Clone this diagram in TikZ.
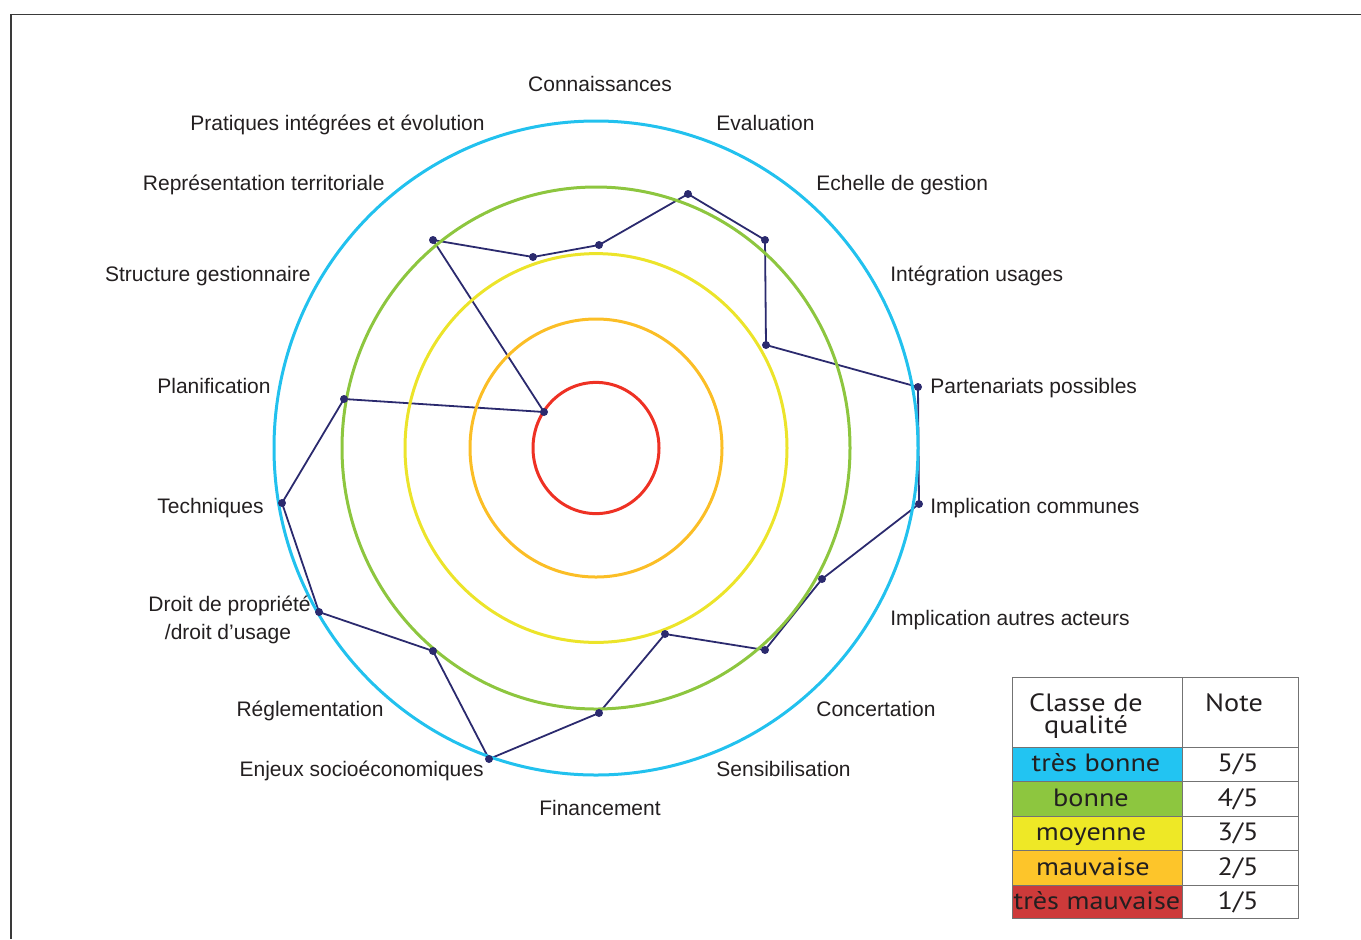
\documentclass[tikz,border=0pt]{standalone}
\usepackage{fontspec}
\setmainfont{Liberation Sans}
\newfontfamily\legendfont{PT Sans}

\definecolor{ringblue}{HTML}{22C1EE}
\definecolor{ringgreen}{HTML}{8DC63F}
\definecolor{ringyellow}{HTML}{ECE42A}
\definecolor{ringorange}{HTML}{FBBE26}
\definecolor{ringred}{HTML}{EE3124}
\definecolor{cellblue}{HTML}{22C4F2}
\definecolor{cellgreen}{HTML}{8DC63F}
\definecolor{cellyellow}{HTML}{EEE826}
\definecolor{cellorange}{HTML}{FDC52A}
\definecolor{cellred}{HTML}{CD3A3A}
\definecolor{scoreline}{HTML}{2B2A6E}
\definecolor{framegray}{HTML}{3A3A3A}
\definecolor{inktext}{HTML}{231F20}

% legend text is set a little wider than the face's natural width
\newcommand{\legwide}[1]{\scalebox{1.13}[1]{#1}}

\begin{document}
\begin{tikzpicture}[x=0.5pt,y=-0.5pt,
  ring/.style={line width=1.5pt},
  axislabel/.style={font=\fontsize{10.5pt}{12.5pt}\selectfont, text=inktext, inner sep=0pt},
  legtext/.style={font=\legendfont\fontsize{12.5pt}{13pt}\selectfont, text=inktext, inner sep=0pt, anchor=base},
  legcell/.style={draw=black!55, line width=0.5pt},
  dot/.style={fill=scoreline}]
\useasboundingbox (0,0) rectangle (1361,939);

% page frame
\draw[framegray, line width=0.6pt] (1361,14.5) -- (11,14.5) -- (11,939);

% score polygon vertices
\coordinate (s01) at (599,245);   % Connaissances
\coordinate (s02) at (688,194);   % Evaluation
\coordinate (s03) at (765,240);   % Echelle de gestion
\coordinate (s04) at (766,345);   % Integration usages
\coordinate (s05) at (918,387);   % Partenariats possibles
\coordinate (s06) at (919,504);   % Implication communes
\coordinate (s07) at (822,579);   % Implication autres acteurs
\coordinate (s08) at (765,650);   % Concertation
\coordinate (s09) at (665,634);   % Sensibilisation
\coordinate (s10) at (599,713);   % Financement
\coordinate (s11) at (489,759);   % Enjeux socioeconomiques
\coordinate (s12) at (433,651);   % Reglementation
\coordinate (s13) at (319,612);   % Droit de propriete
\coordinate (s14) at (282,503);   % Techniques
\coordinate (s15) at (344,399);   % Planification
\coordinate (s16) at (544,412);   % Structure gestionnaire
\coordinate (s17) at (433,240);   % Representation territoriale
\coordinate (s18) at (533,257);   % Pratiques integrees

\draw[scoreline, line width=0.9pt, line join=round]
  (s01) -- (s02) -- (s03) -- (s04) -- (s05) -- (s06) -- (s07) -- (s08) -- (s09)
  -- (s10) -- (s11) -- (s12) -- (s13) -- (s14) -- (s15) -- (s16) -- (s17) -- (s18) -- cycle;

% quality rings
\coordinate (c) at (596,448);
\draw[ring, ringred]    (c) ellipse [x radius=31.5pt, y radius=32.8pt];
\draw[ring, ringorange] (c) ellipse [x radius=63pt,   y radius=64.5pt];
\draw[ring, ringyellow] (c) ellipse [x radius=95.5pt, y radius=97.2pt];
\draw[ring, ringgreen]  (c) ellipse [x radius=127pt,  y radius=130.5pt];
\draw[ring, ringblue]   (c) ellipse [x radius=161pt,  y radius=163.5pt];

\foreach \p in {s01,s02,s03,s04,s05,s06,s07,s08,s09,s10,s11,s12,s13,s14,s15,s16,s17,s18}
  \fill[dot] (\p) circle [radius=2pt];

% axis labels
\node[axislabel, anchor=mid]      (l01) at (600,86)  {Connaissances};
\node[axislabel, anchor=mid west] (l02) at (716,125) {Evaluation};
\node[axislabel, anchor=mid west] (l03) at (816,185) {Echelle de gestion};
\node[axislabel, anchor=mid west] (l04) at (890,276) {Intégration usages};
\node[axislabel, anchor=mid west] (l05) at (930,388) {Partenariats possibles};
\node[axislabel, anchor=mid west] (l06) at (930,508) {Implication communes};
\node[axislabel, anchor=mid west] (l07) at (890,620) {Implication autres acteurs};
\node[axislabel, anchor=mid west] (l08) at (816,711) {Concertation};
\node[axislabel, anchor=mid west] (l09) at (716,771) {Sensibilisation};
\node[axislabel, anchor=mid]      (l10) at (600,810) {Financement};
\node[axislabel, anchor=mid east] (l11) at (484,771) {Enjeux socioéconomiques};
\node[axislabel, anchor=mid east] (l12) at (384,711) {Réglementation};
\node[axislabel, anchor=mid east] (l13) at (311,606) {Droit de propriété};
\node[axislabel, anchor=mid]      (l13b) at (228,634) {/droit d'usage};
\node[axislabel, anchor=mid east] (l14) at (264,508) {Techniques};
\node[axislabel, anchor=mid east] (l15) at (271,388) {Planification};
\node[axislabel, anchor=mid east] (l16) at (311,276) {Structure gestionnaire};
\node[axislabel, anchor=mid east] (l17) at (385,185) {Représentation territoriale};
\node[axislabel, anchor=mid east] (l18) at (485,125) {Pratiques intégrées et évolution};

% legend table
\fill[cellblue]   (1012,747) rectangle (1182,781);
\fill[cellgreen]  (1012,781) rectangle (1182,816);
\fill[cellyellow] (1012,816) rectangle (1182,850);
\fill[cellorange] (1012,850) rectangle (1182,885);
\fill[cellred]    (1012,885) rectangle (1182,918);
\draw[legcell] (1012,677) rectangle (1298,918);
\draw[legcell] (1182,677) -- (1182,918);
\foreach \yy in {747,781,816,850,885}
  \draw[legcell] (1012,\yy) -- (1298,\yy);

\node[legtext] (h1a) at (1086,711) {\legwide{Classe de}};
\node[legtext] (h1b) at (1086,733) {\legwide{qualité}};
\node[legtext] (h2)  at (1234,711) {\legwide{Note}};
\node[legtext] (q5) at (1096,771) {\legwide{très bonne}};
\node[legtext] (q4) at (1091,806) {\legwide{bonne}};
\node[legtext] (q3) at (1091,840) {\legwide{moyenne}};
\node[legtext] (q2) at (1093,875) {\legwide{mauvaise}};
\node[legtext] (q1) at (1097,909) {\legwide{très mauvaise}};
\node[legtext] (n5) at (1238,771) {\legwide{5/5}};
\node[legtext] (n4) at (1238,806) {\legwide{4/5}};
\node[legtext] (n3) at (1238,840) {\legwide{3/5}};
\node[legtext] (n2) at (1238,875) {\legwide{2/5}};
\node[legtext] (n1) at (1238,909) {\legwide{1/5}};
\end{tikzpicture}
\end{document}
